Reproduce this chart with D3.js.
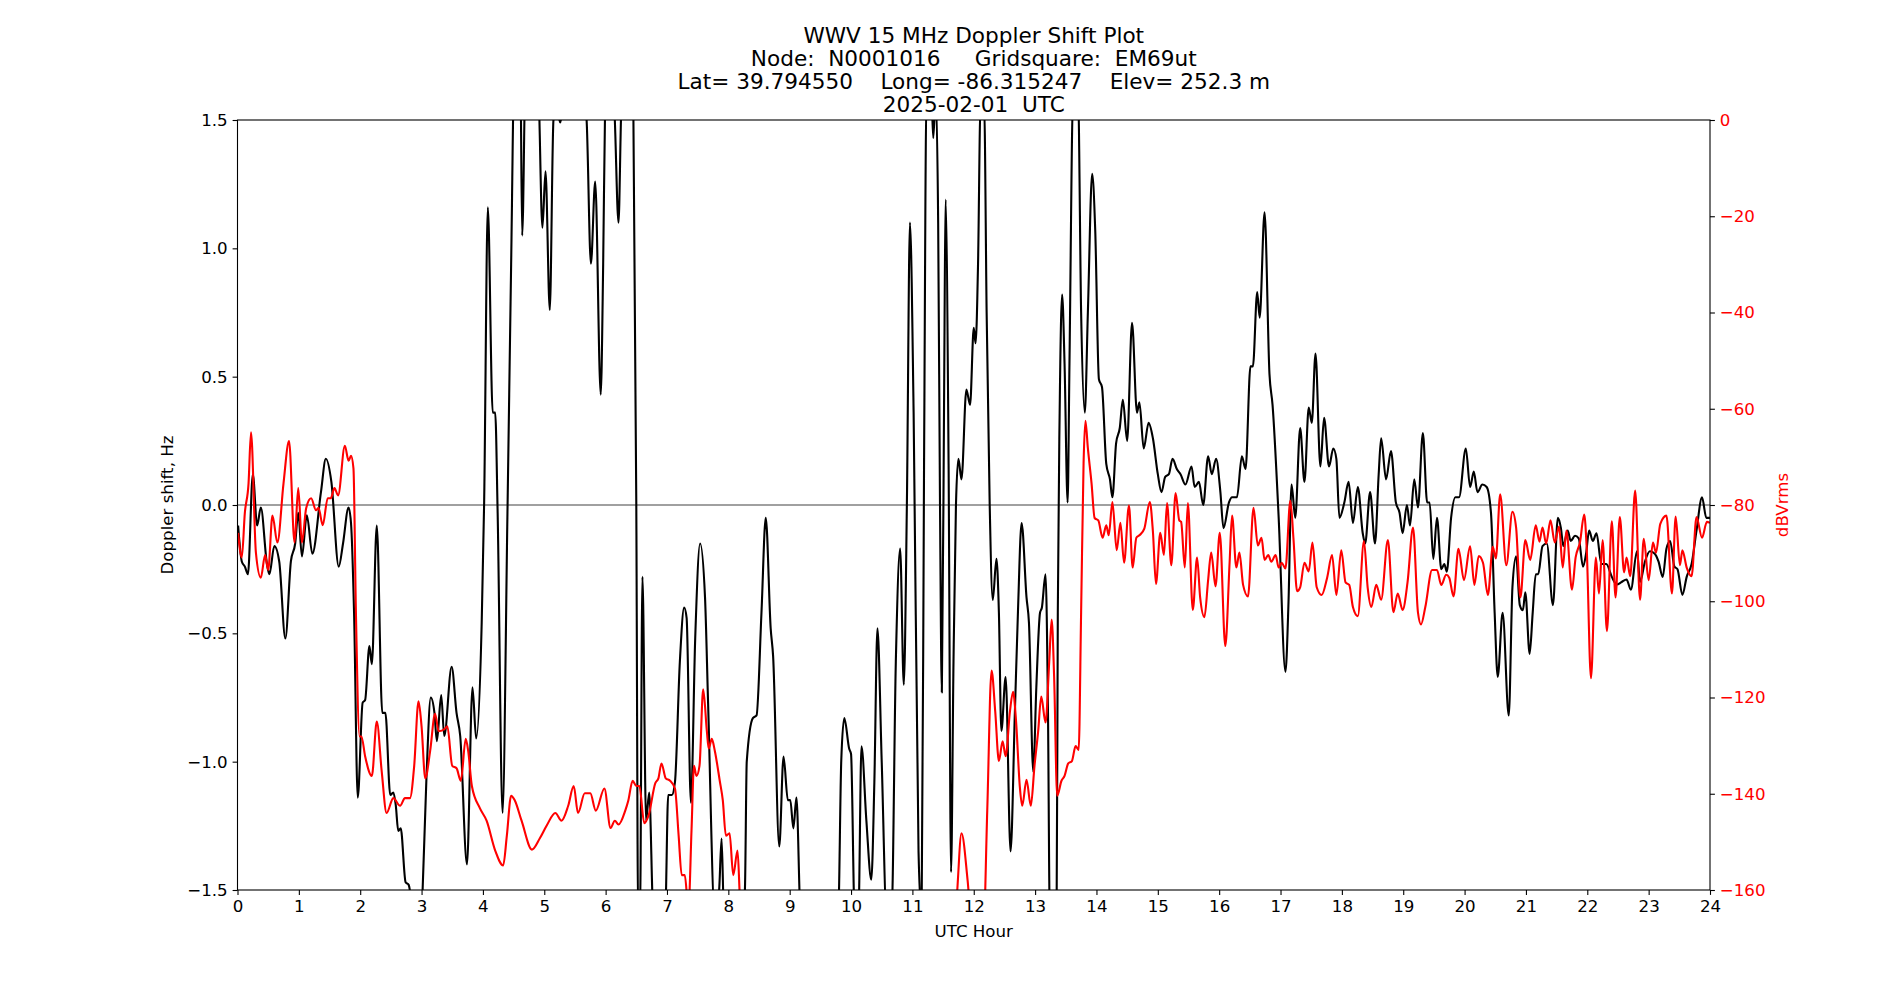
<!DOCTYPE html>
<html lang="en">
<head>
    <meta charset="UTF-8">
    <title>WWV Doppler</title>
	<style>
		body { margin:0; background:#fff; }
		#DOPPLER_PLOT { display:block; }
		#DOPPLER_PLOT text { font-family: "DejaVu Sans", sans-serif; }
		.title-line { font-size: 21.6px; text-anchor: middle; white-space: pre; }
		.tick-label { font-size: 16.67px; }
		.axis-label { font-size: 16.67px; text-anchor: middle; }
	</style>
</head>
<body>
	<svg id="DOPPLER_PLOT" width="1900" height="1000"></svg>

    <script src="https://cdnjs.cloudflare.com/ajax/libs/d3/7.8.5/d3.min.js"></script>
    <script>
		var TITLE_LINES = [
			"WWV 15 MHz Doppler Shift Plot",
			"Node:  N0001016     Gridsquare:  EM69ut",
			"Lat= 39.794550    Long= -86.315247    Elev= 252.3 m",
			"2025-02-01  UTC"
		];
		var X_TICKS = d3.range(0, 25, 1);
		var HZ_TICKS = [-1.5, -1.0, -0.5, 0.0, 0.5, 1.0, 1.5];
		var DB_TICKS = [-160, -140, -120, -100, -80, -60, -40, -20, 0];

		// doppler shift (Hz); values past +-1.5 are off scale
		var dopplerHours = [
			0.01,0.07,0.12,0.17,0.25,0.32,0.38,0.48,0.52,0.60,0.68,0.78,0.87,0.94,0.99,1.05,1.13,1.22,1.36,1.44,
			1.53,1.65,1.72,1.81,1.85,1.90,1.96,2.04,2.08,2.15,2.19,2.27,2.36,2.41,2.49,2.54,2.58,2.62,2.66,2.74,
			2.79,2.85,2.95,3.01,3.08,3.15,3.21,3.25,3.32,3.37,3.49,3.57,3.63,3.74,3.83,3.89,3.98,4.02,4.08,4.16,
			4.20,4.24,4.32,4.40,4.46,4.52,4.61,4.64,4.70,4.80,4.91,4.97,5.02,5.09,5.15,5.20,5.26,5.34,5.50,5.64,
			5.69,5.76,5.83,5.92,5.96,5.99,6.07,6.15,6.21,6.25,6.34,6.45,6.50,6.53,6.56,6.60,6.66,6.71,6.78,6.97,
			7.02,7.08,7.13,7.21,7.28,7.32,7.39,7.46,7.54,7.62,7.67,7.78,7.85,7.89,7.93,8.22,8.27,8.30,8.40,8.46,
			8.54,8.61,8.69,8.73,8.83,8.90,8.97,9.01,9.06,9.11,9.18,9.79,9.84,9.89,9.97,10.00,10.06,10.12,10.17,10.25,
			10.33,10.38,10.43,10.50,10.58,10.66,10.73,10.80,10.86,10.91,10.96,11.02,11.10,11.15,11.19,11.23,11.31,11.34,11.38,11.42,
			11.45,11.48,11.52,11.54,11.59,11.63,11.67,11.71,11.75,11.80,11.88,11.94,12.00,12.03,12.07,12.11,12.17,12.21,12.26,12.31,
			12.37,12.41,12.45,12.52,12.60,12.67,12.72,12.78,12.86,12.90,12.97,13.02,13.08,13.11,13.17,13.21,13.24,13.35,13.37,13.40,
			13.44,13.48,13.53,13.56,13.62,13.70,13.75,13.81,13.86,13.93,13.98,14.04,14.09,14.16,14.22,14.26,14.32,14.38,14.43,14.50,
			14.58,14.66,14.70,14.77,14.85,14.92,15.00,15.06,15.12,15.18,15.24,15.31,15.37,15.45,15.55,15.60,15.67,15.74,15.82,15.88,
			15.95,16.02,16.07,16.16,16.21,16.29,16.37,16.43,16.51,16.55,16.62,16.66,16.74,16.82,16.87,16.97,17.08,17.13,17.18,17.24,
			17.32,17.39,17.46,17.51,17.57,17.65,17.71,17.79,17.86,17.91,17.96,18.04,18.11,18.18,18.26,18.34,18.38,18.46,18.54,18.60,
			18.64,18.72,18.80,18.88,18.94,18.99,19.06,19.11,19.18,19.24,19.32,19.39,19.43,19.49,19.55,19.62,19.67,19.71,19.78,19.85,
			19.91,20.02,20.09,20.15,20.21,20.29,20.36,20.43,20.49,20.54,20.62,20.72,20.78,20.84,20.90,20.95,20.99,21.06,21.11,21.16,
			21.20,21.27,21.34,21.44,21.52,21.57,21.61,21.68,21.73,21.80,21.86,21.93,21.98,22.03,22.09,22.15,22.23,22.31,22.40,22.48,
			22.56,22.64,22.71,22.81,22.86,22.94,23.02,23.10,23.16,23.23,23.29,23.35,23.42,23.47,23.55,23.62,23.70,23.78,23.87,23.94,
			24.00
		];
		var dopplerHz = [
			-0.08,-0.22,-0.24,-0.27,0.12,-0.08,-0.01,-0.23,-0.27,-0.16,-0.22,-0.52,-0.22,-0.15,-0.03,-0.20,-0.04,-0.19,0.05,0.18,
			0.09,-0.24,-0.15,-0.01,-0.07,-0.42,-1.14,-0.77,-0.76,-0.55,-0.62,-0.08,-0.81,-0.81,-1.13,-1.12,-1.17,-1.27,-1.26,-1.47,
			-1.48,-1.58,-1.80,-1.55,-1.06,-0.75,-0.81,-0.92,-0.74,-0.90,-0.63,-0.81,-0.90,-1.40,-0.71,-0.91,-0.46,0.01,1.16,0.36,
			0.36,-0.03,-1.20,-0.03,0.94,1.80,1.70,1.05,1.80,2.00,1.60,1.08,1.30,0.76,1.50,1.55,1.49,1.70,1.90,1.60,
			1.50,0.94,1.26,0.43,0.94,1.52,1.90,1.50,1.10,1.50,2.00,1.60,0.00,-1.60,-1.60,-0.28,-1.23,-1.12,-1.60,-1.60,
			-1.13,-1.13,-1.08,-0.61,-0.40,-0.44,-1.16,-0.52,-0.15,-0.36,-0.77,-1.60,-1.50,-1.30,-1.60,-1.60,-1.50,-1.00,-0.83,-0.82,
			-0.42,-0.05,-0.48,-0.59,-1.33,-0.98,-1.15,-1.15,-1.26,-1.14,-1.60,-1.60,-1.00,-0.83,-0.95,-0.97,-1.60,-1.60,-0.94,-1.23,
			-1.46,-1.08,-0.48,-1.00,-1.60,-1.60,-0.61,-0.17,-0.70,0.00,1.10,0.36,-1.35,-1.60,0.16,1.60,1.60,1.43,1.60,1.10,
			0.00,-0.73,0.55,1.19,0.16,-1.43,-0.61,0.00,0.18,0.10,0.45,0.39,0.69,0.63,0.94,1.55,1.55,0.75,0.00,-0.37,
			-0.21,-0.42,-0.88,-0.67,-1.35,-0.81,-0.42,-0.07,-0.36,-0.46,-1.04,-0.71,-0.42,-0.40,-0.27,-0.81,-1.60,-1.60,-0.42,0.36,
			0.82,0.55,0.01,0.55,1.60,1.60,0.75,0.36,0.75,1.29,1.07,0.49,0.46,0.16,0.10,0.03,0.24,0.30,0.41,0.25,
			0.71,0.36,0.40,0.22,0.32,0.26,0.12,0.05,0.11,0.12,0.18,0.14,0.12,0.08,0.15,0.07,0.09,0.00,0.19,0.12,
			0.18,0.05,-0.09,0.01,0.03,0.03,0.19,0.14,0.54,0.54,0.83,0.73,1.14,0.51,0.39,-0.05,-0.65,-0.38,0.08,-0.05,
			0.30,0.09,0.38,0.32,0.59,0.15,0.34,0.15,0.22,0.18,-0.05,0.01,0.09,-0.07,0.07,-0.11,-0.15,0.05,-0.15,0.12,
			0.26,0.10,0.21,0.01,-0.03,-0.11,0.00,-0.08,0.10,-0.01,0.28,0.01,0.01,-0.21,-0.05,-0.25,-0.23,-0.26,-0.05,0.03,
			0.03,0.22,0.07,0.13,0.05,0.08,0.07,-0.03,-0.42,-0.67,-0.42,-0.82,-0.32,-0.20,-0.39,-0.41,-0.34,-0.58,-0.42,-0.27,
			-0.27,-0.16,-0.15,-0.39,-0.05,-0.09,-0.16,-0.10,-0.14,-0.12,-0.13,-0.24,-0.19,-0.10,-0.14,-0.11,-0.23,-0.23,-0.28,-0.31,
			-0.30,-0.29,-0.33,-0.18,-0.30,-0.22,-0.18,-0.19,-0.22,-0.28,-0.17,-0.14,-0.24,-0.25,-0.35,-0.28,-0.23,-0.10,0.03,-0.05,
			-0.05
		];

		// signal level (dBVrms); values below -160 are off scale
		var signalHours = [
			0.01,0.07,0.12,0.18,0.22,0.30,0.38,0.45,0.50,0.57,0.65,0.75,0.84,0.93,0.99,1.05,1.12,1.20,1.28,1.32,
			1.39,1.47,1.52,1.58,1.64,1.75,1.81,1.85,1.89,1.93,1.99,2.02,2.08,2.19,2.27,2.35,2.43,2.54,2.65,2.73,
			2.81,2.88,2.95,3.00,3.06,3.14,3.22,3.28,3.38,3.42,3.50,3.57,3.64,3.72,3.76,3.82,3.95,4.06,4.20,4.33,
			4.39,4.46,4.52,4.63,4.80,4.93,5.04,5.18,5.28,5.39,5.48,5.55,5.66,5.75,5.84,5.98,6.08,6.15,6.21,6.32,
			6.37,6.44,6.50,6.55,6.63,6.70,6.81,6.86,6.91,6.98,7.05,7.13,7.19,7.24,7.29,7.35,7.40,7.44,7.48,7.53,
			7.59,7.65,7.68,7.73,7.78,7.86,7.91,7.96,8.02,8.08,8.15,8.19,8.30,11.60,11.72,11.80,11.90,11.97,12.15,12.22,
			12.29,12.35,12.41,12.47,12.52,12.59,12.64,12.69,12.75,12.79,12.86,12.93,12.99,13.05,13.10,13.17,13.23,13.27,13.31,13.36,
			13.43,13.48,13.54,13.60,13.66,13.71,13.75,13.79,13.82,13.86,13.92,13.97,14.03,14.10,14.16,14.20,14.26,14.33,14.39,14.45,
			14.53,14.59,14.65,14.70,14.78,14.87,14.92,14.97,15.04,15.10,15.15,15.22,15.29,15.35,15.38,15.44,15.49,15.57,15.64,15.69,
			15.76,15.82,15.87,15.94,16.01,16.10,16.17,16.21,16.28,16.33,16.39,16.47,16.56,16.63,16.69,16.74,16.80,16.85,16.92,16.97,
			17.02,17.08,17.16,17.21,17.27,17.32,17.39,17.46,17.52,17.59,17.67,17.76,17.84,17.91,17.99,18.06,18.12,18.18,18.26,18.36,
			18.42,18.48,18.56,18.64,18.75,18.84,18.91,18.99,19.07,19.16,19.24,19.29,19.36,19.47,19.55,19.62,19.70,19.75,19.82,19.90,
			19.99,20.09,20.16,20.23,20.30,20.38,20.46,20.51,20.58,20.68,20.78,20.84,20.91,20.99,21.07,21.16,21.22,21.27,21.33,21.40,
			21.47,21.54,21.60,21.66,21.75,21.81,21.88,21.95,21.99,22.06,22.14,22.19,22.25,22.32,22.40,22.46,22.53,22.60,22.64,22.70,
			22.78,22.86,22.92,23.00,23.07,23.12,23.19,23.29,23.38,23.44,23.51,23.55,23.62,23.70,23.78,23.87,23.95,24.00
		];
		var signalDb = [
			-85.8,-90.9,-81.6,-75.5,-64.9,-89.9,-95.1,-90.4,-93.5,-82.2,-87.8,-75.5,-66.7,-87.8,-76.5,-87.8,-80.6,-78.6,-81.1,-80.6,
			-84.2,-78.6,-78.6,-76.5,-78.0,-67.7,-70.8,-69.8,-72.4,-102.3,-128.1,-128.1,-132.2,-136.3,-125.0,-135.3,-144.0,-140.9,-142.5,-140.9,
			-140.9,-134.2,-120.8,-126.0,-136.8,-131.1,-123.4,-127.0,-126.5,-126.0,-134.2,-134.7,-137.3,-128.6,-131.1,-138.4,-143.0,-145.6,-151.8,-154.9,
			-148.7,-140.4,-141.4,-145.6,-151.6,-149.2,-146.6,-144.0,-145.6,-142.5,-138.4,-144.0,-139.9,-139.9,-143.5,-138.9,-147.1,-145.6,-146.4,-143.5,
			-141.4,-137.3,-138.4,-138.4,-146.1,-144.5,-137.8,-136.8,-133.7,-136.8,-137.3,-138.9,-148.7,-156.9,-156.9,-164.0,-147.6,-134.2,-136.3,-134.2,
			-118.3,-127.0,-130.6,-128.6,-131.1,-137.3,-141.4,-148.7,-148.2,-156.9,-151.8,-162.0,-172.0,-172.0,-162.0,-148.2,-158.0,-168.0,-172.0,-143.5,
			-114.4,-122.9,-133.2,-129.1,-132.2,-122.9,-118.8,-125.0,-138.4,-142.5,-137.1,-142.5,-134.2,-127.0,-119.8,-125.2,-112.6,-103.8,-115.7,-140.4,
			-137.3,-136.3,-133.7,-133.2,-130.1,-130.9,-102.3,-71.3,-62.5,-68.2,-75.5,-82.7,-83.2,-86.8,-84.2,-86.3,-79.4,-89.4,-83.7,-92.0,
			-80.1,-93.0,-86.8,-86.3,-84.9,-79.4,-85.5,-96.4,-85.8,-90.4,-79.6,-92.5,-77.5,-83.2,-83.5,-93.0,-79.6,-101.8,-90.9,-99.2,
			-103.3,-95.6,-89.9,-96.9,-85.8,-109.3,-92.0,-82.2,-93.0,-89.9,-96.6,-99.0,-80.6,-88.4,-86.8,-91.4,-90.4,-91.8,-90.4,-93.0,
			-92.0,-93.2,-79.1,-86.8,-97.9,-97.1,-92.0,-93.8,-87.8,-97.1,-98.7,-95.1,-90.4,-98.7,-89.4,-96.1,-96.6,-101.2,-103.1,-87.5,
			-97.1,-101.2,-96.6,-99.7,-87.3,-102.3,-98.4,-101.8,-96.1,-84.7,-102.3,-104.8,-101.2,-93.5,-93.5,-96.6,-94.5,-95.1,-99.0,-89.1,
			-95.6,-88.6,-96.6,-90.6,-92.0,-98.7,-88.7,-91.1,-77.8,-92.5,-81.4,-84.7,-99.2,-87.3,-91.4,-84.2,-87.6,-84.7,-88.0,-83.2,
			-87.8,-84.5,-93.0,-85.3,-97.6,-90.9,-87.8,-82.0,-88.9,-116.0,-90.9,-98.4,-87.3,-106.2,-83.4,-99.2,-82.5,-94.0,-90.9,-94.8,
			-77.0,-99.7,-87.0,-95.6,-87.8,-89.9,-83.9,-82.2,-98.4,-82.4,-92.5,-89.4,-93.0,-94.8,-82.5,-86.8,-83.5,-83.7
		];

		var dopplerPlot = {
			width : 1900,
			height : 1000,
			margin : { left: 237.5, right: 190, top: 120, bottom: 110 },

			createPlot : function(){
				var m = this.margin;
				var svg = d3.select("#DOPPLER_PLOT");
				var innerW = this.width - m.left - m.right;
				var innerH = this.height - m.top - m.bottom;

				var x = d3.scaleLinear().domain([0, 24]).range([m.left, m.left + innerW]);
				var yHz = d3.scaleLinear().domain([-1.5, 1.5]).range([m.top + innerH, m.top]);
				var yDb = d3.scaleLinear().domain([-160, 0]).range([m.top + innerH, m.top]);

				svg.append("defs").append("clipPath").attr("id", "plot-clip")
					.append("rect")
						.attr("x", m.left).attr("y", m.top)
						.attr("width", innerW).attr("height", innerH);

				// zero reference
				svg.append("line")
					.attr("x1", x(0)).attr("x2", x(24))
					.attr("y1", yHz(0)).attr("y2", yHz(0))
					.attr("stroke", "#808080")
					.attr("stroke-width", 1.3);

				var dopplerPts = dopplerHours.map(function(h, i){ return [h, dopplerHz[i]]; });
				var signalPts = signalHours.map(function(h, i){ return [h, signalDb[i]]; });

				var hzLine = d3.line()
					.x(function(d){ return x(d[0]); })
					.y(function(d){ return yHz(d[1]); })
					.curve(d3.curveMonotoneX);
				var dbLine = d3.line()
					.x(function(d){ return x(d[0]); })
					.y(function(d){ return yDb(d[1]); })
					.curve(d3.curveMonotoneX);

				var lines = svg.append("g").attr("clip-path", "url(#plot-clip)");
				lines.append("path")
					.attr("d", hzLine(dopplerPts))
					.attr("fill", "none")
					.attr("stroke", "#000")
					.attr("stroke-width", 2.1)
					.attr("stroke-linejoin", "round");
				lines.append("path")
					.attr("d", dbLine(signalPts))
					.attr("fill", "none")
					.attr("stroke", "#ff0000")
					.attr("stroke-width", 2.1)
					.attr("stroke-linejoin", "round");

				// axes
				var tickLen = 4.9, tickPad = 4.9;
				var xAxis = d3.axisBottom(x).tickValues(X_TICKS).tickFormat(d3.format("d"))
					.tickSizeInner(tickLen).tickSizeOuter(0).tickPadding(tickPad);
				var leftAxis = d3.axisLeft(yHz).tickValues(HZ_TICKS).tickFormat(d3.format(".1f"))
					.tickSizeInner(tickLen).tickSizeOuter(0).tickPadding(tickPad);
				var rightAxis = d3.axisRight(yDb).tickValues(DB_TICKS).tickFormat(d3.format("d"))
					.tickSizeInner(tickLen).tickSizeOuter(0).tickPadding(tickPad);

				var gx = svg.append("g").attr("transform", "translate(0," + (m.top + innerH) + ")").call(xAxis);
				var gl = svg.append("g").attr("transform", "translate(" + m.left + ",0)").call(leftAxis);
				var gr = svg.append("g").attr("transform", "translate(" + (m.left + innerW) + ",0)").call(rightAxis);

				[gx, gl, gr].forEach(function(g){
					g.select(".domain").remove();
					g.selectAll(".tick line").attr("stroke", "#000").attr("stroke-width", 1.1);
					g.selectAll(".tick text")
						.attr("class", "tick-label")
						.attr("fill", "#000")
						.style("font-size", "16.67px")
						.style("font-family", "'DejaVu Sans', sans-serif");
				});
				gx.selectAll(".tick text").attr("dy", "0.76em");
				gr.selectAll(".tick text").attr("fill", "#ff0000");

				// frame
				svg.append("rect")
					.attr("x", m.left).attr("y", m.top)
					.attr("width", innerW).attr("height", innerH)
					.attr("fill", "none")
					.attr("stroke", "#000")
					.attr("stroke-width", 1.1);

				// labels
				svg.append("text")
					.attr("class", "axis-label")
					.attr("x", x(12)).attr("y", 937)
					.text("UTC Hour");
				svg.append("text")
					.attr("class", "axis-label")
					.attr("transform", "translate(173," + yHz(0) + ") rotate(-90)")
					.text("Doppler shift, Hz");
				svg.append("text")
					.attr("class", "axis-label")
					.attr("fill", "#ff0000")
					.attr("transform", "translate(1788," + yDb(-80) + ") rotate(-90)")
					.text("dBVrms");

				svg.append("g").selectAll("text")
					.data(TITLE_LINES)
					.join("text")
						.attr("class", "title-line")
						.attr("x", x(12))
						.attr("y", function(d, i){ return 42.5 + i * 23; })
						.text(function(d){ return d; });

				return svg.node();
			}
		};

		dopplerPlot.createPlot();
	</script>
</body>
</html>
